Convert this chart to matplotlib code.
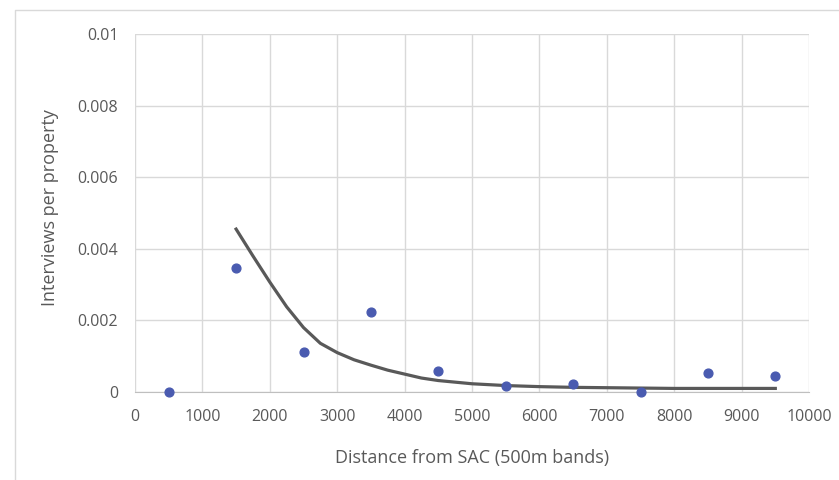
import matplotlib.pyplot as plt
from matplotlib.lines import Line2D

# scatter points (band mid-distance, interviews per property)
distance = [500, 1500, 2500, 3500, 4500, 5500, 6500, 7500, 8500, 9500]
rate = [0.0, 0.00346, 0.00112, 0.00223, 0.00059, 0.00017, 0.00022, 0.0, 0.00053, 0.00045]

# trend line
trend_x = [1500, 1750, 2000, 2250, 2500, 2750, 3000, 3250, 3500, 3750, 4000, 4250, 4500,
           5000, 5500, 6000, 6500, 7000, 7500, 8000, 8500, 9000, 9500]
trend_y = [0.00455, 0.0038, 0.00307, 0.00238, 0.0018, 0.00136, 0.00110, 0.0009, 0.00075,
           0.00061, 0.0005, 0.00039, 0.00032, 0.00023, 0.00018, 0.00015, 0.00013,
           0.00012, 0.00011, 0.0001, 0.0001, 0.0001, 0.0001]

xticks = [0, 1000, 2000, 3000, 4000, 5000, 6000, 7000, 8000, 9000, 10000]
yticks = [0, 0.002, 0.004, 0.006, 0.008, 0.01]
ytick_labels = ["0", "0.002", "0.004", "0.006", "0.008", "0.01"]

plt.rcParams['font.family'] = ['Open Sans', 'DejaVu Sans']
txt = "#595959"

fig = plt.figure(figsize=(8.39, 4.8), dpi=100)
# chart frame: only the left and top edges are inside the crop
fig.lines.append(Line2D([15 / 839, 15 / 839, 1], [0, 1 - 10 / 480, 1 - 10 / 480],
                        transform=fig.transFigure, color="#d9d9d9", linewidth=1))
ax = fig.add_axes([135 / 839, 1 - 392 / 480, 674 / 839, 358 / 480])

ax.plot(trend_x, trend_y, color="#595959", linewidth=2.3, zorder=3)
ax.scatter(distance, rate, s=40, color="#4a5bb0", zorder=4, clip_on=False)

ax.set_xlim(0, 10000)
ax.set_ylim(0, 0.01)
ax.set_xticks(xticks)
ax.set_yticks(yticks)
ax.set_yticklabels(ytick_labels)
ax.grid(True, color="#d9d9d9", linewidth=1)
ax.set_axisbelow(True)
for s in ["top", "right", "left"]:
    ax.spines[s].set_visible(False)
ax.spines["bottom"].set_color("#bfbfbf")
ax.tick_params(length=0, labelsize=11.5, colors=txt, pad=12)
ax.set_xlabel("Distance from SAC (500m bands)", fontsize=13, color=txt, va="center")
ax.set_ylabel("Interviews per property", fontsize=13, color=txt, va="center")
ax.xaxis.set_label_coords(0.5, -0.184)
ax.yaxis.set_label_coords(-0.126, 0.514)

fig.savefig("out.png", dpi=100)
